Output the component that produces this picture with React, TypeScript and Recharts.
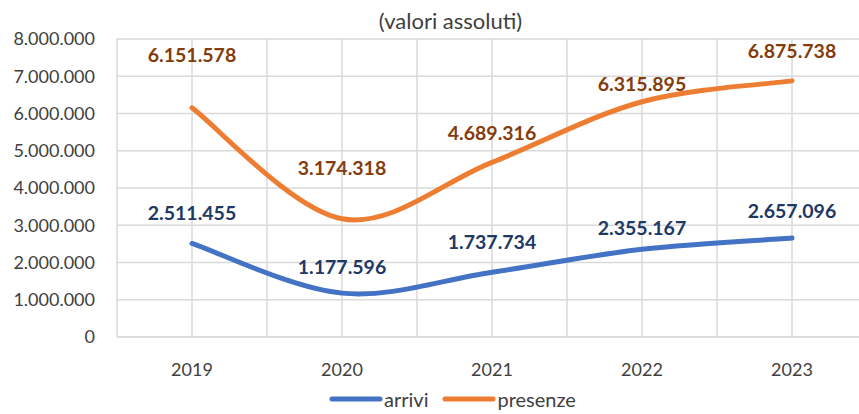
import React from "react";
import { LineChart, Line, XAxis, YAxis, CartesianGrid, Legend, LabelList } from "recharts";

const years = ["2019", "2020", "2021", "2022", "2023"];
const arrivi = [2511455, 1177596, 1737734, 2355167, 2657096];
const presenze = [6151578, 3174318, 4689316, 6315895, 6875738];
const yTicks = [0, 1000000, 2000000, 3000000, 4000000, 5000000, 6000000, 7000000, 8000000];

// how far above each point the Excel labels sit (px)
const arriviLift = [31, 27, 31, 22, 28];
const presenzeLift = [53, 51, 30, 18, 30];

const data = years.map((y, i) => ({ year: y, arrivi: arrivi[i], presenze: presenze[i] }));

const FONT = "Lato, 'Open Sans', sans-serif";

const fmt = (v: number) => String(Math.round(v)).replace(/\B(?=(\d{3})+(?!\d))/g, ".");

// Excel-style smoothing (Catmull-Rom)
function excelSmooth(context: any) {
  let pts: number[][] = [];
  return {
    areaStart() {},
    areaEnd() {},
    lineStart() {
      pts = [];
    },
    point(x: number, y: number) {
      pts.push([x, y]);
    },
    lineEnd() {
      if (!pts.length) return;
      context.moveTo(pts[0][0], pts[0][1]);
      for (let i = 0; i < pts.length - 1; i++) {
        const p0 = pts[i - 1] || pts[i];
        const p1 = pts[i];
        const p2 = pts[i + 1];
        const p3 = pts[i + 2] || pts[i + 1];
        context.bezierCurveTo(
          p1[0] + (p2[0] - p0[0]) / 6,
          p1[1] + (p2[1] - p0[1]) / 6,
          p2[0] - (p3[0] - p1[0]) / 6,
          p2[1] - (p3[1] - p1[1]) / 6,
          p2[0],
          p2[1]
        );
      }
    },
  };
}

const makeLabel = (lift: number[], color: string) => (props: any) => {
  const { x, y, value, index } = props;
  return (
    <text x={x} y={y - lift[index]} textAnchor="middle" dominantBaseline="central" fill={color} fontFamily={FONT} fontSize={19.5} fontWeight={700}>
      {fmt(value)}
    </text>
  );
};

const LegendBox = () => (
  <div style={{ display: "flex", justifyContent: "center", alignItems: "center", paddingTop: 6, paddingLeft: 52, fontFamily: FONT, fontSize: 20, lineHeight: "22px", color: "#404040" }}>
    {[
      { name: "arrivi", color: "#4472C4" },
      { name: "presenze", color: "#ED7D31" },
    ].map((s) => (
      <span key={s.name} style={{ display: "flex", alignItems: "center", marginRight: 14 }}>
        <svg width={54} height={8}>
          <line x1={3} y1={4} x2={51} y2={4} stroke={s.color} strokeWidth={5} strokeLinecap="round" />
        </svg>
        <span style={{ marginLeft: 1 }}>{s.name}</span>
      </span>
    ))}
  </div>
);

export default function App() {
  return (
    <div style={{ position: "absolute", left: 0, top: 0, width: 859, height: 414, overflow: "hidden", background: "#fff" }}>
      <div style={{ position: "absolute", left: 0, right: 0, top: 7, textAlign: "center", fontFamily: FONT, fontSize: 22, color: "#404040", paddingLeft: 42 }}>
        (valori assoluti)
      </div>
      <LineChart width={870} height={414} data={data} margin={{ top: 39, right: 3, left: 0, bottom: 0 }}>
        <CartesianGrid
          stroke="#D9D9D9"
          strokeWidth={1.5}
          verticalCoordinatesGenerator={({ offset }: any) =>
            Array.from({ length: 11 }, (_, i) => offset.left + (i * offset.width) / 10)
          }
        />
        <XAxis
          dataKey="year"
          padding={{ left: 75, right: 75 }}
          axisLine={{ stroke: "#D9D9D9", strokeWidth: 1.5 }}
          tickLine={false}
          tick={{ fill: "#404040", fontSize: 18, fontFamily: FONT }}
          tickMargin={20}
          height={45}
        />
        <YAxis
          domain={[0, 8000000]}
          ticks={yTicks}
          tickFormatter={fmt}
          axisLine={false}
          tickLine={false}
          tick={{ fill: "#404040", fontSize: 18, fontFamily: FONT }}
          tickMargin={16}
          width={117}
          interval={0}
        />
        <Legend verticalAlign="bottom" height={32} content={<LegendBox />} />
        <Line dataKey="arrivi" type={excelSmooth as any} stroke="#4472C4" strokeWidth={5} strokeLinecap="round" dot={false} isAnimationActive={false}>
          <LabelList dataKey="arrivi" content={makeLabel(arriviLift, "#203864")} />
        </Line>
        <Line dataKey="presenze" type={excelSmooth as any} stroke="#ED7D31" strokeWidth={5} strokeLinecap="round" dot={false} isAnimationActive={false}>
          <LabelList dataKey="presenze" content={makeLabel(presenzeLift, "#843C0C")} />
        </Line>
      </LineChart>
    </div>
  );
}
